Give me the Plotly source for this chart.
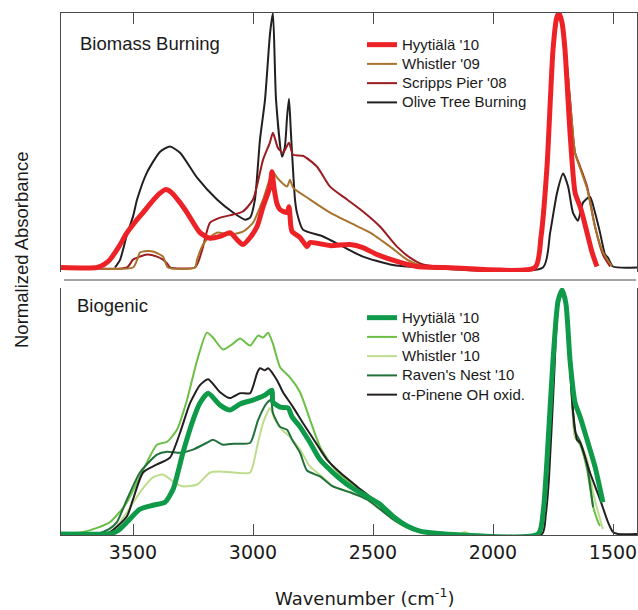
import plotly.graph_objects as go

# ---------------- Biomass burning panel ----------------
hyy_bb_x = [3800, 3650, 3620, 3596, 3560, 3525, 3490, 3458, 3420, 3390, 3365, 3340, 3304, 3275, 3221, 3179,
            3137, 3096, 3067, 3042, 3012, 2983, 2958, 2929, 2921, 2912, 2900, 2887, 2858, 2850, 2842, 2837,
            2804, 2775, 2762, 2679, 2596, 2542, 2483, 2400, 2317, 2200, 1825, 1800, 1775, 1750, 1735, 1725,
            1712, 1700, 1679, 1658, 1637, 1625, 1587, 1567]
hyy_bb_y = [0, 0, 0.012, 0.031, 0.08, 0.137, 0.18, 0.216, 0.26, 0.29, 0.306, 0.295, 0.255, 0.216, 0.137, 0.115,
            0.122, 0.137, 0.11, 0.09, 0.118, 0.161, 0.239, 0.318, 0.376, 0.31, 0.25, 0.227, 0.216, 0.239, 0.16, 0.141,
            0.118, 0.082, 0.098, 0.086, 0.09, 0.078, 0.051, 0.024, 0.004, 0, 0, 0.12, 0.396, 0.855, 0.98, 1.0,
            0.96, 0.855, 0.529, 0.294, 0.239, 0.2, 0.059, 0.004]

whi09_x = [3750, 3500, 3483, 3471, 3440, 3417, 3375, 3354, 3242, 3233, 3208, 3192, 3150, 3096, 3042, 3000,
           2958, 2917, 2900, 2858, 2846, 2833, 2762, 2679, 2596, 2512, 2429, 2358, 2292, 2250, 1825, 1800,
           1775, 1750, 1725, 1700, 1679, 1658, 1637, 1608, 1575, 1542, 1504]
whi09_y = [0, 0, 0.03, 0.059, 0.065, 0.063, 0.043, 0, 0, 0.031, 0.09, 0.11, 0.137, 0.129, 0.141, 0.176,
           0.267, 0.376, 0.353, 0.318, 0.345, 0.314, 0.267, 0.216, 0.176, 0.137, 0.082, 0.031, 0.004, 0, 0, 0.12,
           0.396, 0.855, 1.0, 0.87, 0.66, 0.45, 0.39, 0.31, 0.16, 0.06, 0.004]

scr08_x = [3750, 3525, 3500, 3471, 3442, 3400, 3375, 3358, 3346, 3242, 3225, 3208, 3179, 3137, 3083, 3042,
           3000, 2958, 2930, 2917, 2896, 2875, 2850, 2833, 2792, 2733, 2679, 2608, 2542, 2471, 2400, 2346,
           2292, 2233, 1825, 1800, 1775, 1750, 1725, 1700, 1679, 1658, 1637, 1608, 1575, 1542, 1512]
scr08_y = [0, 0, 0.031, 0.043, 0.051, 0.043, 0.031, 0.016, 0, 0, 0.03, 0.082, 0.176, 0.196, 0.208, 0.22,
           0.267, 0.424, 0.49, 0.529, 0.47, 0.451, 0.49, 0.443, 0.439, 0.396, 0.318, 0.267, 0.22, 0.161, 0.082, 0.039,
           0.012, 0.004, 0, 0.12, 0.396, 0.855, 1.0, 0.87, 0.659, 0.451, 0.396, 0.318, 0.161, 0.051, 0.004]

olive_x = [3575, 3554, 3525, 3500, 3483, 3442, 3387, 3346, 3304, 3233, 3150, 3083, 3033, 3012, 2992, 2971,
           2950, 2929, 2917, 2904, 2879, 2867, 2858, 2850, 2842, 2825, 2817, 2792, 2708, 2625, 2542, 2429,
           2292, 1792, 1762, 1733, 1708, 1687, 1667, 1646, 1625, 1596, 1575, 1554, 1533, 1521, 1500, 1400]
olive_y = [0, 0.03, 0.13, 0.2, 0.267, 0.373, 0.455, 0.475, 0.451, 0.353, 0.267, 0.216, 0.188, 0.196, 0.267, 0.502,
           0.659, 0.92, 1.0, 0.659, 0.435, 0.475, 0.592, 0.663, 0.529, 0.267, 0.216, 0.149, 0.122, 0.082, 0.043, 0.012,
           0, 0, 0.137, 0.294, 0.369, 0.318, 0.216, 0.184, 0.255, 0.278, 0.216, 0.137, 0.051, 0.039, 0.004, 0]

# ---------------- Biogenic panel ----------------
hyy_bg_x = [3800, 3600, 3583, 3555, 3525, 3471, 3417, 3367, 3333, 3292, 3250, 3221, 3187, 3137, 3096, 3054,
            3000, 2950, 2921, 2917, 2887, 2854, 2837, 2804, 2783, 2762, 2721, 2667, 2596, 2525, 2471, 2417,
            2358, 2304, 2250, 2200, 1812, 1790, 1775, 1750, 1729, 1712, 1696, 1679, 1658, 1637, 1608, 1575, 1542]
hyy_bg_y = [0, 0, 0.004, 0.02, 0.049, 0.102, 0.118, 0.13, 0.183, 0.333, 0.467, 0.537, 0.577, 0.528, 0.508, 0.533,
            0.549, 0.569, 0.589, 0.541, 0.52, 0.516, 0.48, 0.439, 0.407, 0.374, 0.305, 0.252, 0.195, 0.154, 0.122, 0.073,
            0.033, 0.012, 0.004, 0, 0, 0.1, 0.305, 0.711, 0.955, 1.0, 0.943, 0.711, 0.537, 0.48, 0.386, 0.276, 0.13]

whi08_x = [3800, 3708, 3650, 3596, 3560, 3525, 3471, 3400, 3358, 3317, 3275, 3233, 3192, 3167, 3125, 3083,
           3054, 3012, 2979, 2958, 2937, 2917, 2887, 2846, 2804, 2762, 2721, 2667, 2596, 2525, 2471, 2417,
           2358, 2304, 2250, 1812, 1790, 1775, 1750, 1729, 1712, 1696, 1679, 1658, 1637, 1608, 1583, 1562, 1554]
whi08_y = [0, 0.008, 0.025, 0.049, 0.085, 0.13, 0.236, 0.366, 0.378, 0.427, 0.549, 0.711, 0.825, 0.805, 0.756, 0.78,
           0.801, 0.772, 0.813, 0.805, 0.825, 0.78, 0.683, 0.642, 0.581, 0.467, 0.358, 0.276, 0.211, 0.163, 0.114, 0.061,
           0.028, 0.008, 0, 0, 0.1, 0.305, 0.711, 0.955, 0.996, 0.943, 0.711, 0.398, 0.366, 0.264, 0.114, 0.049, 0.033]

whi10_x = [3800, 3620, 3596, 3560, 3525, 3471, 3417, 3375, 3333, 3292, 3233, 3179, 3137, 3083, 3012, 2983,
           2958, 2929, 2908, 2879, 2846, 2804, 2762, 2708, 2667, 2596, 2525, 2471, 2387, 2333, 2275, 2140,
           2117, 2095, 1812, 1790, 1775, 1750, 1729, 1712, 1696, 1679, 1658, 1637, 1608, 1583, 1546, 1542]
whi10_y = [0, 0, 0.008, 0.04, 0.089, 0.171, 0.232, 0.244, 0.215, 0.195, 0.203, 0.252, 0.256, 0.252, 0.252, 0.358,
           0.455, 0.516, 0.467, 0.427, 0.398, 0.346, 0.276, 0.232, 0.195, 0.171, 0.142, 0.102, 0.041, 0.016, 0, 0,
           0.008, 0, 0, 0.1, 0.305, 0.711, 0.955, 0.996, 0.943, 0.711, 0.398, 0.374, 0.305, 0.171, 0.033, 0.02]

raven_x = [3800, 3650, 3637, 3600, 3567, 3525, 3471, 3400, 3358, 3304, 3250, 3192, 3167, 3125, 3083, 3012,
           2979, 2942, 2925, 2917, 2887, 2858, 2837, 2804, 2775, 2721, 2667, 2596, 2525, 2471, 2417, 2358,
           2304, 2242, 1812, 1790, 1775, 1750, 1729, 1712, 1696, 1679, 1658, 1637, 1608, 1583]
raven_y = [0, 0, 0.004, 0.02, 0.049, 0.142, 0.252, 0.325, 0.337, 0.333, 0.346, 0.374, 0.386, 0.366, 0.37, 0.374,
           0.467, 0.537, 0.549, 0.496, 0.439, 0.427, 0.386, 0.333, 0.26, 0.236, 0.195, 0.171, 0.142, 0.102, 0.061, 0.028,
           0.012, 0, 0, 0.1, 0.305, 0.711, 0.955, 0.996, 0.943, 0.711, 0.42, 0.38, 0.28, 0.11]

pinene_x = [3800, 3667, 3596, 3525, 3500, 3458, 3400, 3346, 3304, 3262, 3221, 3187, 3137, 3096, 3054, 3012,
            2983, 2971, 2950, 2937, 2900, 2875, 2833, 2792, 2733, 2692, 2637, 2567, 2500, 2442, 2387, 2333,
            2275, 2221, 1796, 1780, 1767, 1746, 1729, 1712, 1696, 1679, 1667, 1650, 1637, 1596, 1554, 1521,
            1500, 1479, 1400]
pinene_y = [0, 0, 0.008, 0.073, 0.142, 0.252, 0.285, 0.313, 0.415, 0.537, 0.61, 0.634, 0.581, 0.557, 0.577, 0.577,
            0.659, 0.679, 0.671, 0.679, 0.63, 0.581, 0.52, 0.455, 0.366, 0.305, 0.252, 0.195, 0.142, 0.089, 0.049, 0.02,
            0.004, 0, 0, 0.08, 0.224, 0.63, 0.935, 0.988, 0.935, 0.671, 0.508, 0.386, 0.374, 0.252, 0.142, 0.049,
            0.008, 0, 0]

tick_vals = [3500, 3000, 2500, 2000, 1500]
tick_text = ["3500", "3000", "2500", "2000", "1500"]

LEG_FONT = "Liberation Sans, Arial, sans-serif"
TICK_FONT = "DejaVu Sans, sans-serif"


def lab(s):
    return '<span style="font-size:15px">' + s + '</span>'


fig = go.Figure()

top_series = [
    (olive_x, olive_y, "Olive Tree Burning", "#231f20", 2, 4),
    (scr08_x, scr08_y, "Scripps Pier '08", "#9b1b20", 2, 3),
    (whi09_x, whi09_y, "Whistler '09", "#a8732c", 2, 2),
    (hyy_bb_x, hyy_bb_y, "Hyytiälä '10", "#ed2227", 5, 1),
]
for xs, ys, name, col, w, rank in top_series:
    fig.add_trace(go.Scatter(x=xs, y=ys, name=lab(name), mode="lines",
                             line=dict(color=col, width=w, shape="spline", smoothing=0.6),
                             xaxis="x", yaxis="y", legend="legend", legendrank=rank))

bottom_series = [
    (whi08_x, whi08_y, "Whistler '08", "#6cbf45", 2, 2),
    (whi10_x, whi10_y, "Whistler '10", "#bddd8d", 2, 3),
    (raven_x, raven_y, "Raven's Nest '10", "#21713b", 2, 4),
    (pinene_x, pinene_y, "α-Pinene OH oxid.", "#231f20", 2, 5),
    (hyy_bg_x, hyy_bg_y, "Hyytiälä '10", "#0e9a48", 5, 1),
]
for xs, ys, name, col, w, rank in bottom_series:
    fig.add_trace(go.Scatter(x=xs, y=ys, name=lab(name), mode="lines",
                             line=dict(color=col, width=w, shape="spline", smoothing=0.6),
                             xaxis="x2", yaxis="y2", legend="legend2", legendrank=rank))

AX = "#4a4a4a"
common_x = dict(range=[3800, 1400], showgrid=False, zeroline=False, showline=True, linecolor=AX,
                linewidth=1, ticks="inside", ticklen=11, tickcolor=AX, tickwidth=1,
                tickvals=tick_vals, ticktext=tick_text)

fig.update_layout(
    width=638, height=610,
    margin=dict(l=61, r=1, t=13, b=75),
    paper_bgcolor="white", plot_bgcolor="white",
    xaxis=dict(common_x, anchor="y", side="top", showticklabels=False),
    yaxis=dict(domain=[0.5038, 1.0], range=[-0.0177, 1.0], showgrid=False, zeroline=False,
               showline=True, mirror=True, linecolor=AX, linewidth=1, showticklabels=False, ticks=""),
    xaxis2=dict(common_x, anchor="y2", side="bottom", showticklabels=True,
                tickfont=dict(family=TICK_FONT, size=19, color="#1a1a1a")),
    yaxis2=dict(domain=[0.0, 0.4732], range=[-0.004, 1.008], showgrid=False, zeroline=False,
                showline=True, mirror=True, linecolor=AX, linewidth=1, showticklabels=False, ticks=""),
    legend=dict(x=0.5226, y=0.9674, xanchor="left", yanchor="top", bgcolor="rgba(0,0,0,0)",
                font=dict(family=LEG_FONT, size=12.5, color="#1a1a1a"), tracegroupgap=0),
    legend2=dict(x=0.5226, y=0.4444, xanchor="left", yanchor="top", bgcolor="rgba(0,0,0,0)",
                 font=dict(family=LEG_FONT, size=12.5, color="#1a1a1a"), tracegroupgap=0),
    showlegend=True,
    shapes=[dict(type="line", xref="paper", yref="paper", x0=0.0052, x1=0.9983, y0=0.4885, y1=0.4885,
                 line=dict(color=AX, width=1))],
    annotations=[
        dict(text="Biomass Burning", xref="paper", yref="paper", x=0.0295, y=0.9425,
             xanchor="left", yanchor="middle", showarrow=False,
             font=dict(family=LEG_FONT, size=18.5, color="#1a1a1a")),
        dict(text="Biogenic", xref="paper", yref="paper", x=0.0243, y=0.4406,
             xanchor="left", yanchor="middle", showarrow=False,
             font=dict(family=LEG_FONT, size=18.5, color="#1a1a1a")),
        dict(text="Normalized Absorbance", xref="paper", yref="paper", x=-0.0677, y=0.546,
             xanchor="center", yanchor="middle", textangle=-90, showarrow=False,
             font=dict(family=LEG_FONT, size=18.5, color="#1a1a1a")),
        dict(text="Wavenumber (cm<sup>-1</sup>)", xref="paper", yref="paper", x=0.527, y=-0.1188,
             xanchor="center", yanchor="middle", showarrow=False,
             font=dict(family=TICK_FONT, size=18, color="#1a1a1a")),
    ],
)

fig.write_html("out.html", config={"displayModeBar": False},
               post_script="document.body.style.margin='0px';document.body.style.overflow='hidden';")
